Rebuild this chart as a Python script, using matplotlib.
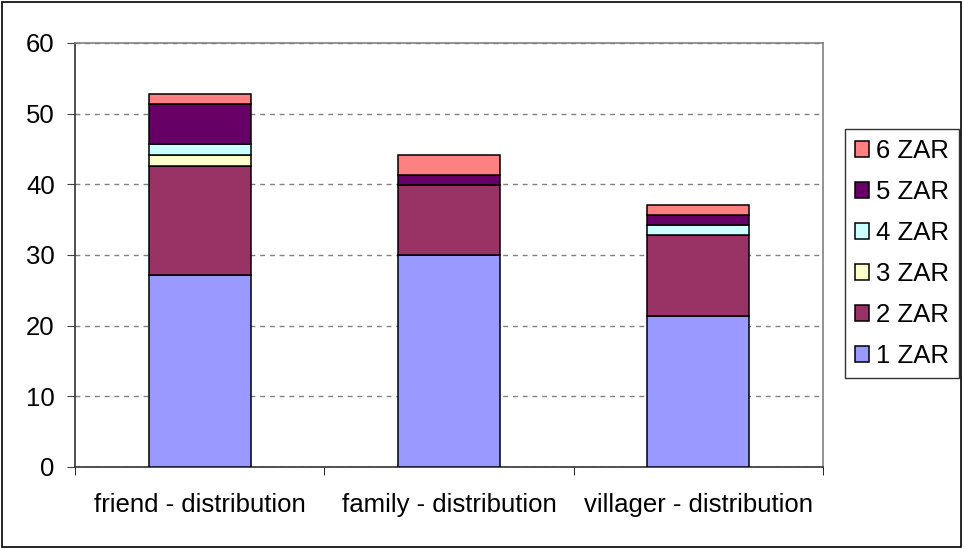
import matplotlib
matplotlib.use("Agg")
import matplotlib.pyplot as plt
from matplotlib.patches import Rectangle, Patch
import numpy as np

plt.rcParams['font.family'] = ['Liberation Sans', 'DejaVu Sans']

# 数据
categories = ["friend - distribution", "family - distribution", "villager - distribution"]
series_names = ["1 ZAR", "2 ZAR", "3 ZAR", "4 ZAR", "5 ZAR", "6 ZAR"]
zar1 = [27.1, 30.0, 21.4]
zar2 = [15.5, 9.9, 11.4]
zar3 = [1.5, 0.0, 0.0]
zar4 = [1.6, 0.0, 1.4]
zar5 = [5.7, 1.4, 1.5]
zar6 = [1.4, 2.9, 1.4]
series_values = [zar1, zar2, zar3, zar4, zar5, zar6]
colors = ["#9999FF", "#993366", "#FFFFCC", "#CCFFFF", "#660066", "#FF8080"]
yticks = [0, 10, 20, 30, 40, 50, 60]

FS = 18.5

fig = plt.figure(figsize=(9.64, 5.49), dpi=100)
ax = fig.add_axes([0.0778, 0.1494, 0.8537 - 0.0778, 0.9217 - 0.1494])

x = np.arange(len(categories))
bottom = np.zeros(len(categories))
for name, vals, col in zip(series_names, series_values, colors):
    vals = np.array(vals)
    ax.bar(x, vals, width=0.41, bottom=bottom, color=col, edgecolor="black",
           linewidth=1.1, label=name, zorder=3)
    bottom += vals

ax.set_xlim(-0.5, 2.5)
ax.set_ylim(0, 60)
ax.set_yticks(yticks)
ax.set_xticks(x)
ax.set_xticklabels(categories, fontsize=FS)
ax.set_xticks([-0.5, 0.5, 1.5, 2.5], minor=True)
ax.tick_params(axis="x", which="major", length=0, pad=19)
ax.tick_params(axis="x", which="minor", length=6, direction="out", color="black")
ax.tick_params(axis="y", length=6, direction="out", labelsize=FS, pad=8.5, color="#444444")
ax.yaxis.grid(True, linestyle=(0, (3.5, 3.5)), color="#808080", linewidth=1, zorder=0)

ax.spines["top"].set_color("#808080")
ax.spines["right"].set_color("#808080")
ax.spines["left"].set_color("#333333")
ax.spines["bottom"].set_color("#333333")
for s in ax.spines.values():
    s.set_linewidth(1.2)

# 图例（倒序）
handles = [Patch(facecolor=c, edgecolor="black", linewidth=1.1) for c in colors][::-1]
labels = series_names[::-1]
leg = fig.legend(handles, labels, loc="upper left", bbox_to_anchor=(0.8766, 0.765),
                 fontsize=FS, frameon=True, fancybox=False, edgecolor="black",
                 handlelength=0.55, handleheight=0.55, handletextpad=0.25,
                 labelspacing=0.66, borderpad=0.4, borderaxespad=0)
leg.get_frame().set_linewidth(1.0)

# 外框
fig.patches.append(Rectangle((0.002, 0.003), 0.995, 0.994, transform=fig.transFigure,
                             fill=False, edgecolor="black", linewidth=1.2))

fig.savefig("out.png", dpi=100)
